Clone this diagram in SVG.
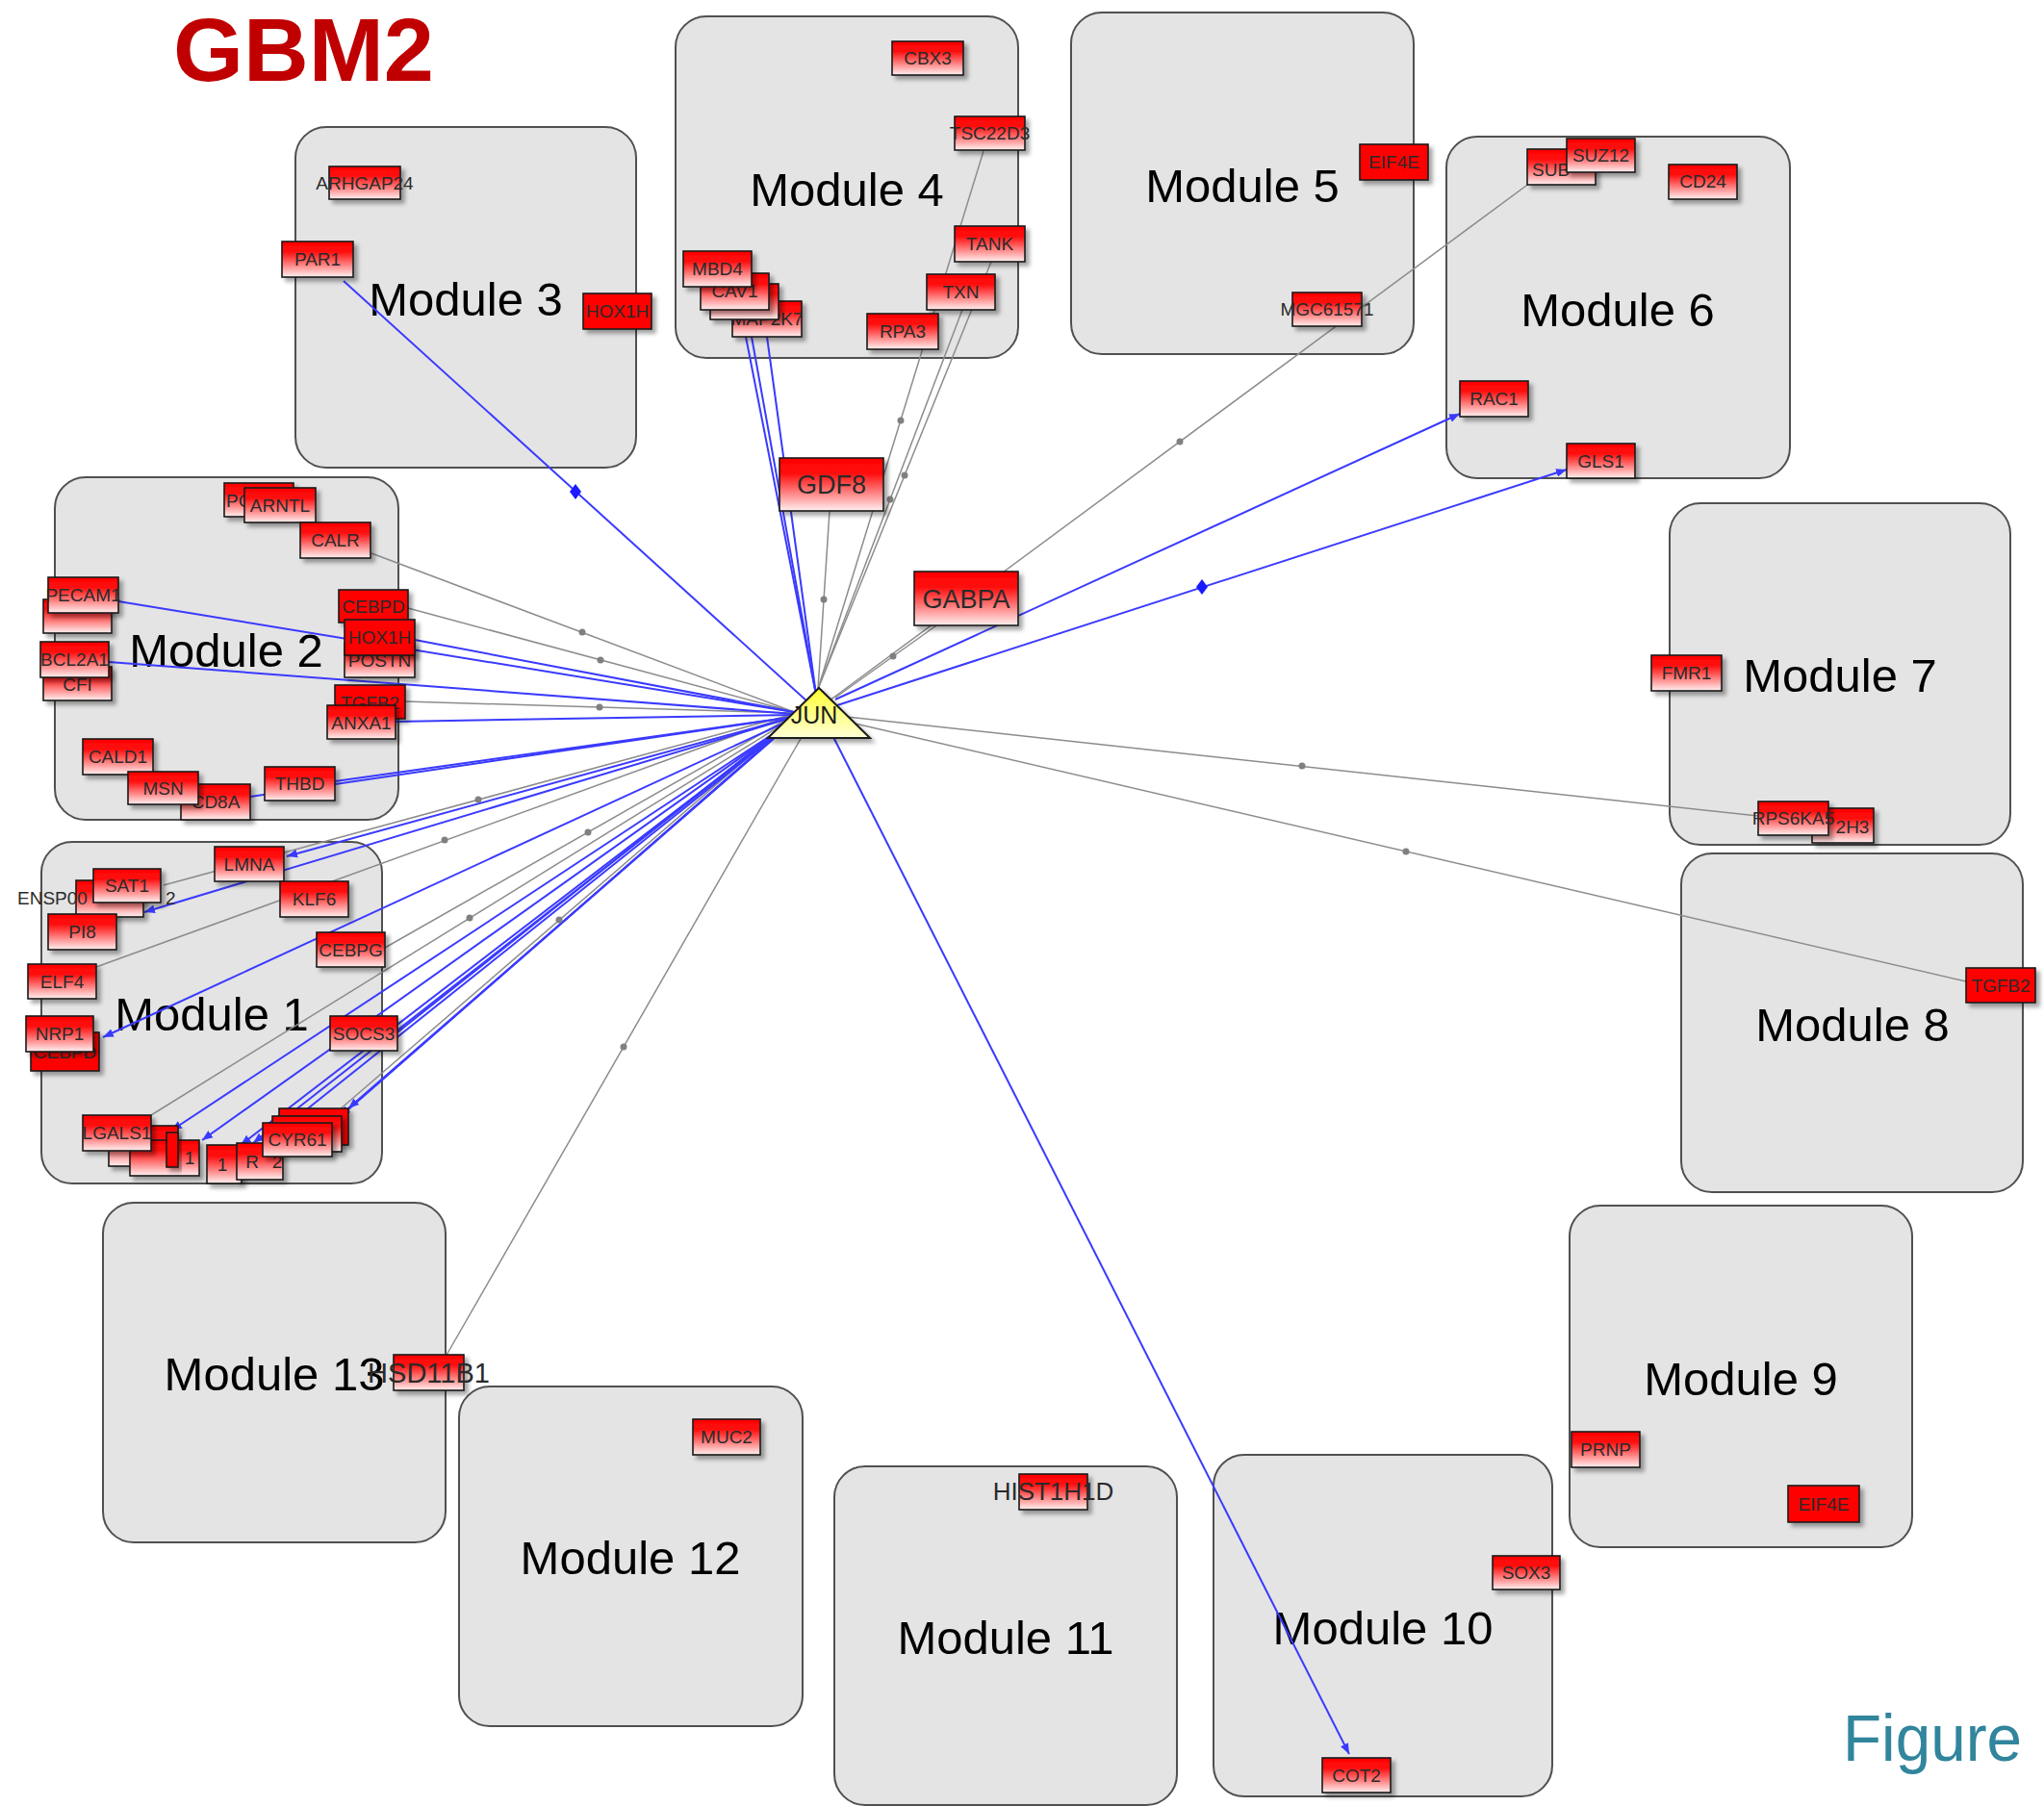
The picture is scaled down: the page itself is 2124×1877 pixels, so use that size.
<svg xmlns="http://www.w3.org/2000/svg" width="2124" height="1877" viewBox="0 0 2124 1877">
<defs>
<linearGradient id="rg" x1="0" y1="0" x2="0" y2="1">
<stop offset="0" stop-color="#ff0000"/>
<stop offset="0.3" stop-color="#ff1010"/>
<stop offset="1" stop-color="#fff0f0"/>
</linearGradient>
<linearGradient id="yg" x1="0" y1="0" x2="0" y2="1">
<stop offset="0" stop-color="#ffff30"/>
<stop offset="1" stop-color="#ffffd8"/>
</linearGradient>
<filter id="sh" x="-20%" y="-20%" width="150%" height="160%">
<feDropShadow dx="4" dy="4" stdDeviation="2" flood-color="#000" flood-opacity="0.35"/>
</filter>
<marker id="ab" viewBox="0 0 10 10" refX="10" refY="5" markerWidth="11" markerHeight="11" markerUnits="userSpaceOnUse" orient="auto">
<path d="M0,1 L10,5 L0,9 z" fill="#3a3aff"/>
</marker>
<style>
.mod rect{fill:#e4e4e4;stroke:#505050;stroke-width:2}
.mod text{font-family:"Liberation Sans",Arial,sans-serif;font-size:49px;fill:#000;text-anchor:middle}
.g rect{fill:url(#rg);stroke:#1a1a1a;stroke-width:1.6;filter:url(#sh)}
.s rect{fill:#ff0000;stroke:#1a1a1a;stroke-width:1.6;filter:url(#sh)}
.g text,.s text,.lt{font-family:"Liberation Sans",Arial,sans-serif;font-size:19px;fill:#2a2a2a;text-anchor:middle}
.big text{font-size:27px}
.b{stroke:#3a3aff;stroke-width:2;fill:none}
.k{stroke:#8c8c8c;stroke-width:1.5;fill:none}
.dot{fill:#808080}
.dia{fill:#1a1aff}
</style>
</defs>
<rect width="2124" height="1877" fill="#ffffff"/>

<text x="180" y="84" font-family="Liberation Sans,Arial,sans-serif" font-weight="bold" font-size="92" fill="#c00000" textLength="271" lengthAdjust="spacingAndGlyphs">GBM2</text>
<text x="1915" y="1830" font-family="Liberation Sans,Arial,sans-serif" font-size="68" fill="#31859c" textLength="186" lengthAdjust="spacingAndGlyphs">Figure</text>

<g id="modules">
<g id="module1" class="mod"><rect x="43" y="875" width="354" height="355" rx="32"/><text x="220" y="1071">Module 1</text></g>
<g id="module2" class="mod"><rect x="57" y="496" width="357" height="356" rx="32"/><text x="235" y="693">Module 2</text></g>
<g id="module3" class="mod"><rect x="307" y="132" width="354" height="354" rx="32"/><text x="484" y="328">Module 3</text></g>
<g id="module4" class="mod"><rect x="702" y="17" width="356" height="355" rx="32"/><text x="880" y="214">Module 4</text></g>
<g id="module5" class="mod"><rect x="1113" y="13" width="356" height="355" rx="32"/><text x="1291" y="210">Module 5</text></g>
<g id="module6" class="mod"><rect x="1503" y="142" width="357" height="355" rx="32"/><text x="1681" y="339">Module 6</text></g>
<g id="module7" class="mod"><rect x="1735" y="523" width="354" height="355" rx="32"/><text x="1912" y="719">Module 7</text></g>
<g id="module8" class="mod"><rect x="1747" y="887" width="355" height="352" rx="32"/><text x="1925" y="1082">Module 8</text></g>
<g id="module9" class="mod"><rect x="1631" y="1253" width="356" height="355" rx="32"/><text x="1809" y="1450">Module 9</text></g>
<g id="module10" class="mod"><rect x="1261" y="1512" width="352" height="355" rx="32"/><text x="1437" y="1709">Module 10</text></g>
<g id="module11" class="mod"><rect x="867" y="1524" width="356" height="352" rx="32"/><text x="1045" y="1719">Module 11</text></g>
<g id="module12" class="mod"><rect x="477" y="1441" width="357" height="353" rx="32"/><text x="655" y="1636">Module 12</text></g>
<g id="module13" class="mod"><rect x="107" y="1250" width="356" height="353" rx="32"/><text x="285" y="1445">Module 13</text></g>
</g>

<g id="connectors">
<!-- gray edges -->
<line class="k" x1="1022" y1="157" x2="850" y2="716"/>
<line class="k" x1="1030" y1="272" x2="850" y2="716"/>
<line class="k" x1="1000" y1="322" x2="850" y2="716"/>
<line class="k" x1="862" y1="531" x2="850" y2="716"/>
<line class="k" x1="1590" y1="190" x2="862" y2="728"/>
<line class="k" x1="1004" y1="628" x2="868" y2="725"/>
<line class="k" x1="1827" y1="848" x2="880" y2="745"/>
<line class="k" x1="2043" y1="1020" x2="880" y2="750"/>
<line class="k" x1="463" y1="1410" x2="833" y2="766"/>
<line class="k" x1="386" y1="575" x2="825" y2="740"/>
<line class="k" x1="424" y1="632" x2="825" y2="740"/>
<line class="k" x1="421" y1="729" x2="825" y2="741"/>
<line class="k" x1="170" y1="920" x2="825" y2="742"/>
<line class="k" x1="100" y1="1005" x2="825" y2="742"/>
<line class="k" x1="400" y1="985" x2="822" y2="745"/>
<line class="k" x1="157" y1="1159" x2="818" y2="750"/>
<line class="k" x1="345" y1="1160" x2="818" y2="752"/>
<!-- blue edges -->
<line class="b" x1="357" y1="292" x2="840" y2="730"/>
<line class="b" x1="775" y1="350" x2="848" y2="722"/>
<line class="b" x1="781" y1="350" x2="848" y2="722"/>
<line class="b" x1="797" y1="350" x2="848" y2="722"/>
<line class="b" x1="868" y1="727" x2="1517" y2="430" marker-end="url(#ab)"/>
<line class="b" x1="870" y1="733" x2="1628" y2="488" marker-end="url(#ab)"/>
<line class="b" x1="866" y1="766" x2="1402" y2="1823" marker-end="url(#ab)"/>
<line class="b" x1="123" y1="625" x2="825" y2="740"/>
<line class="b" x1="431" y1="665" x2="825" y2="740"/>
<line class="b" x1="113" y1="688" x2="825" y2="742"/>
<line class="b" x1="411" y1="750" x2="825" y2="743"/>
<line class="b" x1="348" y1="812" x2="825" y2="745"/>
<line class="b" x1="260" y1="828" x2="825" y2="745"/>
<line class="b" x1="822" y1="746" x2="298" y2="890" marker-end="url(#ab)"/>
<line class="b" x1="822" y1="746" x2="150" y2="948" marker-end="url(#ab)"/>
<line class="b" x1="413" y1="1073" x2="818" y2="752"/>
<line class="b" x1="822" y1="748" x2="107" y2="1078" marker-end="url(#ab)"/>
<line class="b" x1="815" y1="755" x2="178" y2="1175" marker-end="url(#ab)"/>
<line class="b" x1="815" y1="755" x2="210" y2="1185" marker-end="url(#ab)"/>
<line class="b" x1="815" y1="756" x2="250" y2="1190" marker-end="url(#ab)"/>
<line class="b" x1="815" y1="756" x2="263" y2="1188" marker-end="url(#ab)"/>
<line class="b" x1="815" y1="757" x2="300" y2="1168" marker-end="url(#ab)"/>
<line class="b" x1="815" y1="757" x2="345" y2="1168" marker-end="url(#ab)"/>
<line class="b" x1="815" y1="758" x2="353" y2="1160" marker-end="url(#ab)"/>
<line class="b" x1="815" y1="758" x2="362" y2="1152" marker-end="url(#ab)"/>
<!-- edge midpoint glyphs -->
<circle class="dot" cx="936" cy="437" r="3.5"/>
<circle class="dot" cx="940" cy="494" r="3.5"/>
<circle class="dot" cx="925" cy="519" r="3.5"/>
<circle class="dot" cx="856" cy="623" r="3.5"/>
<circle class="dot" cx="1226" cy="459" r="3.5"/>
<circle class="dot" cx="928" cy="682" r="3.5"/>
<circle class="dot" cx="1353" cy="796" r="3.5"/>
<circle class="dot" cx="1461" cy="885" r="3.5"/>
<circle class="dot" cx="648" cy="1088" r="3.5"/>
<circle class="dot" cx="605" cy="657" r="3.5"/>
<circle class="dot" cx="624" cy="686" r="3.5"/>
<circle class="dot" cx="623" cy="735" r="3.5"/>
<circle class="dot" cx="497" cy="831" r="3.5"/>
<circle class="dot" cx="462" cy="873" r="3.5"/>
<circle class="dot" cx="611" cy="865" r="3.5"/>
<circle class="dot" cx="488" cy="954" r="3.5"/>
<circle class="dot" cx="581" cy="956" r="3.5"/>
<polygon class="dia" points="598,503 604,511 598,519 592,511"/>
<polygon class="dia" points="1249,602 1255,610 1249,618 1243,610"/>
</g>

<g id="genes">
<!-- Module 3 -->
<g id="n-ARHGAP24" class="g"><rect x="342" y="173" width="74" height="34"/><text x="379" y="197">ARHGAP24</text></g>
<g id="n-PAR1" class="g"><rect x="293" y="251" width="74" height="37"/><text x="330" y="276">PAR1</text></g>
<g id="n-HOX1H-3" class="s"><rect x="606" y="305" width="71" height="37"/><text x="641.5" y="330">HOX1H</text></g>
<!-- Module 4 -->
<g id="n-CBX3" class="g"><rect x="927" y="43" width="74" height="35"/><text x="964" y="67">CBX3</text></g>
<g id="n-TSC22D3" class="g"><rect x="992" y="121" width="73" height="35"/><text x="1028.5" y="145">TSC22D3</text></g>
<g id="n-TANK" class="g"><rect x="992" y="235" width="73" height="37"/><text x="1028.5" y="260">TANK</text></g>
<g id="n-TXN" class="g"><rect x="963" y="285" width="71" height="37"/><text x="998.5" y="310">TXN</text></g>
<g id="n-RPA3" class="g"><rect x="901" y="326" width="74" height="37"/><text x="938" y="351">RPA3</text></g>
<g id="n-MAP2K7" class="g"><rect x="761" y="313" width="72" height="37"/><text x="797" y="338">MAP2K7</text></g>
<g id="n-m4x" class="g"><rect x="738" y="295" width="71" height="37"/></g>
<g id="n-CAV1" class="g"><rect x="728" y="284" width="71" height="38"/><text x="763.5" y="309">CAV1</text></g>
<g id="n-MBD4" class="g"><rect x="710" y="261" width="71" height="37"/><text x="745.5" y="286">MBD4</text></g>
<!-- Module 5 -->
<g id="n-EIF4E-5" class="s"><rect x="1413" y="150" width="71" height="37"/><text x="1448.5" y="175">EIF4E</text></g>
<g id="n-MGC61571" class="g"><rect x="1343" y="304" width="72" height="35"/><text x="1379" y="328">MGC61571</text></g>
<!-- Module 6 -->
<g id="n-SUB1" class="g"><rect x="1587" y="155" width="71" height="37"/><text x="1592" y="183" style="text-anchor:start">SUB</text></g>
<g id="n-SUZ12" class="g"><rect x="1628" y="144" width="71" height="35"/><text x="1663.5" y="168">SUZ12</text></g>
<g id="n-CD24" class="g"><rect x="1734" y="171" width="71" height="36"/><text x="1769.5" y="195">CD24</text></g>
<g id="n-RAC1" class="g"><rect x="1517" y="396" width="71" height="37"/><text x="1552.5" y="421">RAC1</text></g>
<g id="n-GLS1" class="g"><rect x="1628" y="461" width="71" height="36"/><text x="1663.5" y="486">GLS1</text></g>
<!-- Module 7 -->
<g id="n-FMR1" class="g"><rect x="1716" y="681" width="73" height="37"/><text x="1752.5" y="706">FMR1</text></g>
<g id="n-2H3" class="g"><rect x="1883" y="840" width="64" height="36"/><text x="1925" y="866">2H3</text></g>
<g id="n-RPS6KA5" class="g"><rect x="1827" y="833" width="73" height="35"/><text x="1863.5" y="857">RPS6KA5</text></g>
<!-- Module 8 -->
<g id="n-TGFB2-8" class="s"><rect x="2043" y="1006" width="72" height="36"/><text x="2079" y="1031">TGFB2</text></g>
<!-- Module 9 -->
<g id="n-PRNP" class="g"><rect x="1633" y="1488" width="71" height="37"/><text x="1668.5" y="1513">PRNP</text></g>
<g id="n-EIF4E-9" class="s"><rect x="1858" y="1544" width="74" height="38"/><text x="1895" y="1570">EIF4E</text></g>
<!-- Module 10 -->
<g id="n-SOX3" class="g"><rect x="1551" y="1617" width="70" height="35"/><text x="1586" y="1641">SOX3</text></g>
<g id="n-COT2" class="g"><rect x="1374" y="1827" width="71" height="36"/><text x="1409.5" y="1852">COT2</text></g>
<!-- Module 11 -->
<g id="n-HIST1H1D" class="g"><rect x="1059" y="1532" width="71" height="37"/><text x="1094.5" y="1559" style="font-size:26px">HIST1H1D</text></g>
<!-- Module 12 -->
<g id="n-MUC2" class="g"><rect x="720" y="1475" width="70" height="37"/><text x="755" y="1500">MUC2</text></g>
<!-- Module 13 -->
<g id="n-HSD11B1" class="g"><rect x="409" y="1408" width="73" height="37"/><text x="445.5" y="1437" style="font-size:29px">HSD11B1</text></g>
<!-- Module 2 -->
<g id="n-PC" class="g"><rect x="233" y="502" width="72" height="35"/><text x="235" y="527" style="text-anchor:start">PC</text></g>
<g id="n-ARNTL" class="g"><rect x="254" y="507" width="74" height="36"/><text x="291" y="532">ARNTL</text></g>
<g id="n-CALR" class="g"><rect x="312" y="543" width="73" height="37"/><text x="348.5" y="568">CALR</text></g>
<g id="n-m2x" class="g"><rect x="45" y="623" width="71" height="35"/></g>
<g id="n-PECAM1" class="g"><rect x="50" y="600" width="73" height="37"/><text x="86.5" y="625">PECAM1</text></g>
<g id="n-CFI" class="g"><rect x="45" y="693" width="71" height="35"/><text x="80.5" y="718">CFI</text></g>
<g id="n-BCL2A1" class="g"><rect x="42" y="667" width="71" height="37"/><text x="77.5" y="692">BCL2A1</text></g>
<g id="n-CEBPD-2" class="s"><rect x="352" y="613" width="72" height="34"/><text x="388" y="637">CEBPD</text></g>
<g id="n-POSTN" class="g"><rect x="358" y="668" width="73" height="36"/><text x="394.5" y="693">POSTN</text></g>
<g id="n-HOX1H-2" class="s"><rect x="358" y="644" width="73" height="37"/><text x="394.5" y="669">HOX1H</text></g>
<g id="n-TGFB2-2" class="s"><rect x="348" y="712" width="73" height="35"/><text x="384.5" y="737">TGFB2</text></g>
<g id="n-ANXA1" class="g"><rect x="340" y="733" width="71" height="35"/><text x="375.5" y="758">ANXA1</text></g>
<g id="n-CALD1" class="g"><rect x="86" y="768" width="73" height="37"/><text x="122.5" y="793">CALD1</text></g>
<g id="n-CD8A" class="g"><rect x="188" y="815" width="72" height="37"/><text x="224" y="840">CD8A</text></g>
<g id="n-MSN" class="g"><rect x="133" y="802" width="73" height="34"/><text x="169.5" y="826">MSN</text></g>
<g id="n-THBD" class="g"><rect x="275" y="797" width="73" height="35"/><text x="311.5" y="821">THBD</text></g>
<!-- Module 1 -->
<g id="n-LMNA" class="g"><rect x="223" y="880" width="72" height="36"/><text x="259" y="905">LMNA</text></g>
<g id="n-ENSP" class="g"><rect x="79" y="915" width="70" height="38"/><text x="18" y="940" style="text-anchor:start">ENSP00</text><text x="172" y="940" style="text-anchor:start">2</text></g>
<g id="n-SAT1" class="g"><rect x="97" y="903" width="70" height="35"/><text x="132" y="927">SAT1</text></g>
<g id="n-PI8" class="g"><rect x="50" y="950" width="71" height="37"/><text x="85.5" y="975">PI8</text></g>
<g id="n-KLF6" class="g"><rect x="291" y="916" width="71" height="37"/><text x="326.5" y="941">KLF6</text></g>
<g id="n-CEBPG" class="g"><rect x="329" y="969" width="71" height="36"/><text x="364.5" y="994">CEBPG</text></g>
<g id="n-ELF4" class="g"><rect x="29" y="1002" width="71" height="36"/><text x="64.5" y="1027">ELF4</text></g>
<g id="n-CEBPD-1" class="s"><rect x="32" y="1073" width="71" height="40"/><text x="67.5" y="1100">CEBPD</text></g>
<g id="n-NRP1" class="g"><rect x="27" y="1056" width="70" height="37"/><text x="62" y="1081">NRP1</text></g>
<g id="n-SOCS3" class="g"><rect x="343" y="1056" width="70" height="36"/><text x="378" y="1081">SOCS3</text></g>
<g id="n-c1" class="g"><rect x="113" y="1170" width="72" height="42"/><text x="179" y="1198">4</text></g>
<g id="n-c2" class="g"><rect x="135" y="1185" width="72" height="37"/><text x="197" y="1210">1</text></g>
<g id="n-LGALS1" class="g"><rect x="86" y="1159" width="71" height="37"/><text x="121.5" y="1184">LGALS1</text></g>
<g id="n-c3" class="s"><rect x="173" y="1177" width="12" height="36"/></g>
<g id="n-c4" class="g"><rect x="215" y="1190" width="36" height="40"/><text x="231" y="1217">1</text></g>
<g id="n-c5" class="g"><rect x="246" y="1188" width="48" height="38"/><text x="262" y="1214">R</text><text x="288" y="1214">2</text></g>
<g id="n-CYR61b" class="s"><rect x="290" y="1152" width="72" height="38"/></g>
<g id="n-CYR61m" class="g"><rect x="283" y="1160" width="72" height="37"/></g>
<g id="n-CYR61" class="g"><rect x="273" y="1167" width="72" height="35"/><text x="309" y="1191">CYR61</text></g>
</g>

<g id="central">
<g id="n-GDF8" class="g big"><rect x="810" y="476" width="108" height="55"/><text x="864" y="513">GDF8</text></g>
<g id="n-GABPA" class="g big"><rect x="950" y="594" width="108" height="56"/><text x="1004" y="632">GABPA</text></g>
<g id="n-JUN"><polygon points="851,715 904,767 798,767" fill="url(#yg)" stroke="#1a1a1a" stroke-width="2" filter="url(#sh)"/><text x="846" y="752" font-family="Liberation Sans,Arial,sans-serif" font-size="25" fill="#1a1a1a" text-anchor="middle">JUN</text></g>
</g>
</svg>
